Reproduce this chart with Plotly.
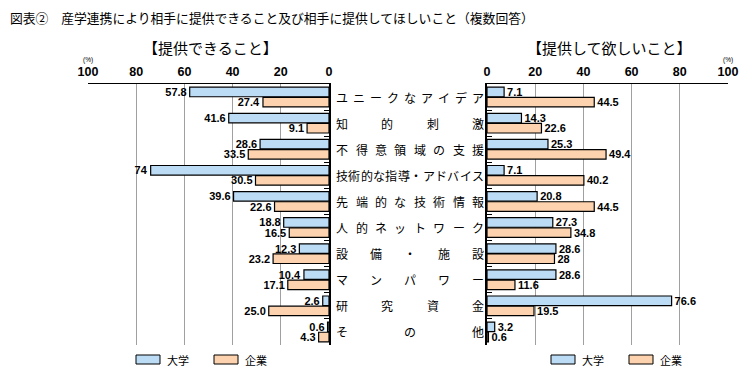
import plotly.graph_objects as go

# ---- data ----
categories = ["ユニークなアイデア", "知的刺激", "不得意領域の支援", "技術的な指導・アドバイス",
              "先端的な技術情報", "人的ネットワーク", "設備・施設", "マンパワー", "研究資金", "その他"]
give_univ = [57.8, 41.6, 28.6, 74, 39.6, 18.8, 12.3, 10.4, 2.6, 0.6]
give_corp = [27.4, 9.1, 33.5, 30.5, 22.6, 16.5, 23.2, 17.1, 25.0, 4.3]
want_univ = [7.1, 14.3, 25.3, 7.1, 20.8, 27.3, 28.6, 28.6, 76.6, 3.2]
want_corp = [44.5, 22.6, 49.4, 40.2, 44.5, 34.8, 28, 11.6, 19.5, 0.6]
tick_vals = [0, 20, 40, 60, 80, 100]
series_names = ["大学", "企業"]

W, H = 753, 378
ML, MR, MT, MB = 88, 25, 84, 33
PW = W - ML - MR
PH = H - MT - MB

def px2x(p):
    return (p - ML) / PW

def py2y(p):
    return (H - MB - p) / PH

BLUE = "#bcdcf6"
ORANGE = "#fcd3ae"
JP = "Noto Sans CJK JP"
NUM = "Liberation Sans"

fig = go.Figure()

def bar(vals, color, xa, ya, name):
    return go.Bar(
        x=vals, y=categories, orientation="h", name=name,
        marker=dict(color=color, line=dict(color="black", width=1.2)),
        text=[str(v) for v in vals], textposition="outside", cliponaxis=False,
        constraintext="none",
        textfont=dict(family=NUM, size=11, color="black", weight="bold"),
        xaxis=xa, yaxis=ya, showlegend=False,
    )

fig.add_trace(bar(give_univ, BLUE, "x", "y", series_names[0]))
fig.add_trace(bar(give_corp, ORANGE, "x", "y", series_names[1]))
fig.add_trace(bar(want_univ, BLUE, "x2", "y2", series_names[0]))
fig.add_trace(bar(want_corp, ORANGE, "x2", "y2", series_names[1]))

xcommon = dict(
    side="top", tickvals=tick_vals, ticks="", showline=True, linecolor="black", linewidth=1.2,
    showgrid=True, gridcolor="#a0a0a0", gridwidth=1, zeroline=False, automargin=False,
    tickfont=dict(family=NUM, size=12.5, color="black", weight="bold"), ticklabelstandoff=2,
)
ycommon = dict(
    categoryorder="array", categoryarray=categories, autorange="reversed",
    showticklabels=False, ticks="inside", ticklen=5, tickcolor="black", tickwidth=1,
    tickson="boundaries", showline=True, linecolor="black", linewidth=1.5, showgrid=False,
    automargin=False,
)

left_end = px2x(329)
right_start = px2x(487)
fig.update_layout(
    width=W, height=H, margin=dict(l=ML, r=MR, t=MT, b=MB, autoexpand=False),
    paper_bgcolor="white", plot_bgcolor="white",
    barmode="group", bargap=0.22, bargroupgap=0.06,
    xaxis=dict(domain=[0, left_end], range=[100, 0], anchor="y", **xcommon),
    xaxis2=dict(domain=[right_start, 1], range=[0, 100], anchor="y2", **xcommon),
    yaxis=dict(anchor="x", side="right", **ycommon),
    yaxis2=dict(anchor="x2", side="left", **ycommon),
    font=dict(family=JP, color="black"),
)

ann = []

def note(text, px, py, size, family=JP, xanchor="center"):
    ann.append(dict(text=text, x=px2x(px), y=py2y(py), xref="paper", yref="paper",
                    xanchor=xanchor, yanchor="middle", showarrow=False,
                    font=dict(family=family, size=size)))

# titles
note("図表②　産学連携により相手に提供できること及び相手に提供してほしいこと（複数回答）", 8, 17, 12.8, xanchor="left")
note("【提供できること】", 210, 48, 15)
note("【提供して欲しいこと】", 609, 48, 15)
for p in (88, 728):
    note("(%)", p, 60, 6.5, family=NUM)

# category labels, justified between the two panels
x0, x1, cw = 336, 484, 12.2
for cat in categories:
    n = len(cat)
    for i, ch in enumerate(cat):
        cx = x0 + cw / 2 + i * (x1 - x0 - cw) / (n - 1) if n > 1 else (x0 + x1) / 2
        ann.append(dict(text=ch, x=px2x(cx), y=cat, xref="paper", yref="y",
                        xanchor="center", yanchor="middle",
                        showarrow=False, font=dict(family=JP, size=12)))

# legends
shapes = []
for bx, color, name in [(136, BLUE, series_names[0]), (214, ORANGE, series_names[1]),
                        (551, BLUE, series_names[0]), (629, ORANGE, series_names[1])]:
    shapes.append(dict(type="rect", xref="paper", yref="paper",
                       x0=px2x(bx), x1=px2x(bx + 24), y0=py2y(364), y1=py2y(355),
                       fillcolor=color, line=dict(color="black", width=1)))
    note(name, bx + 29, 359.5, 11, xanchor="left")

fig.update_layout(annotations=ann, shapes=shapes)
fig.write_html("out.html", config={"displayModeBar": False},
               post_script="document.body.style.margin='0px';")
